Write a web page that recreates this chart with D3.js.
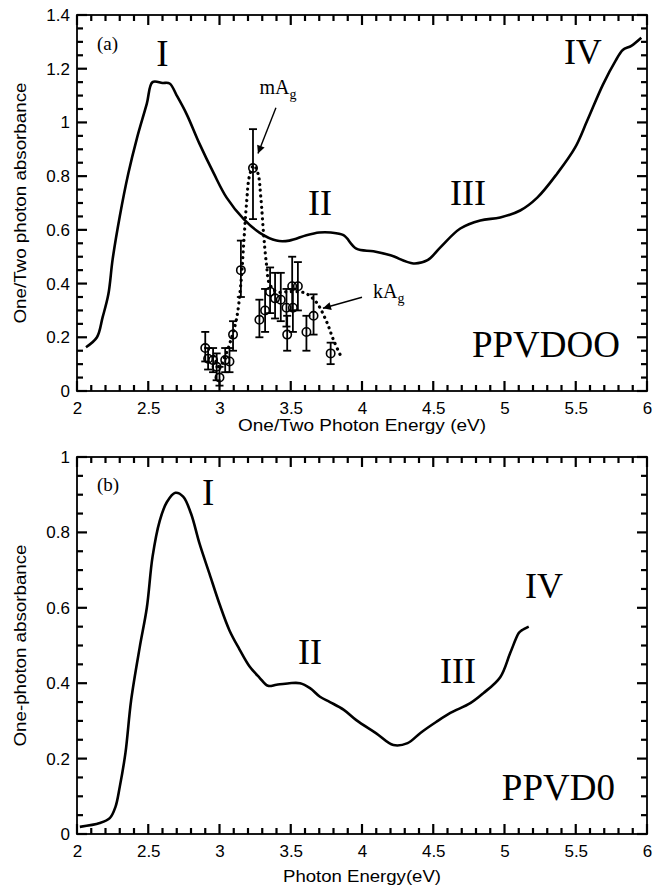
<!DOCTYPE html>
<html>
<head>
<meta charset="utf-8">
<script src="https://cdn.jsdelivr.net/npm/d3@7"></script>
<style>
  body { margin: 0; background: #fff; }
  svg { display: block; }
  .axis path { display: none; }
  .axis text { font-family: "Liberation Sans", Arial, Helvetica, sans-serif; font-size: 17px; fill: #000; }
  .title { font-family: "Liberation Sans", Arial, Helvetica, sans-serif; font-size: 16px; fill: #000; }
  .lbl { font-family: "Liberation Serif", "Times New Roman", Times, serif; fill: #000; }
</style>
</head>
<body>
<div id="chart"></div>
<script>
// (a) PPVDOO one-photon absorbance
const ppvdooE = [2.063, 2.14, 2.18, 2.22, 2.25, 2.30, 2.36, 2.42, 2.49, 2.53, 2.60, 2.65, 2.70, 2.77, 2.86, 2.96, 3.05, 3.17, 3.28, 3.40, 3.49, 3.61, 3.70, 3.78, 3.87, 3.96, 4.08, 4.20, 4.36, 4.46, 4.55, 4.69, 4.83, 4.97, 5.11, 5.23, 5.37, 5.495, 5.58, 5.69, 5.78, 5.83, 5.89, 5.96];
const ppvdooA = [0.163, 0.20, 0.275, 0.36, 0.49, 0.65, 0.81, 0.94, 1.07, 1.15, 1.147, 1.145, 1.10, 1.03, 0.92, 0.81, 0.72, 0.64, 0.59, 0.56, 0.56, 0.58, 0.59, 0.59, 0.58, 0.53, 0.52, 0.505, 0.475, 0.487, 0.535, 0.605, 0.635, 0.646, 0.672, 0.72, 0.81, 0.906, 1.006, 1.14, 1.23, 1.27, 1.285, 1.315];

// (a) two-photon points with error bars
const tpaE    = [2.90, 2.92, 2.955, 2.98, 3.00, 3.04, 3.07, 3.095, 3.15, 3.235, 3.28, 3.32, 3.355, 3.39, 3.43, 3.47, 3.475, 3.51, 3.515, 3.55, 3.61, 3.66, 3.78];
const tpaA    = [0.16, 0.12, 0.115, 0.09, 0.05, 0.115, 0.11, 0.21, 0.45, 0.83, 0.265, 0.30, 0.37, 0.345, 0.34, 0.31, 0.21, 0.39, 0.31, 0.39, 0.22, 0.28, 0.14];
const tpaLow  = [0.11, 0.08, 0.07, 0.04, 0.02, 0.07, 0.07, 0.15, 0.35, 0.64, 0.20, 0.22, 0.29, 0.27, 0.26, 0.24, 0.15, 0.30, 0.22, 0.30, 0.15, 0.21, 0.10];
const tpaHigh = [0.22, 0.16, 0.16, 0.14, 0.09, 0.16, 0.16, 0.26, 0.56, 0.975, 0.34, 0.38, 0.46, 0.44, 0.44, 0.38, 0.28, 0.50, 0.38, 0.48, 0.28, 0.36, 0.18];

// (a) dotted fit through the two-photon data
const fitE = [2.96, 3.00, 3.04, 3.08, 3.12, 3.15, 3.17, 3.19, 3.21, 3.24, 3.27, 3.29, 3.31, 3.33, 3.35, 3.40, 3.50, 3.60, 3.68, 3.75, 3.80, 3.86];
const fitA = [0.13, 0.09, 0.13, 0.19, 0.27, 0.40, 0.55, 0.70, 0.80, 0.84, 0.81, 0.72, 0.58, 0.47, 0.40, 0.37, 0.37, 0.365, 0.33, 0.26, 0.19, 0.12];

// (b) PPVD0 one-photon absorbance
const ppvd0E = [2.02, 2.16, 2.23, 2.27, 2.30, 2.34, 2.38, 2.44, 2.49, 2.53, 2.58, 2.63, 2.69, 2.745, 2.80, 2.86, 2.93, 3.00, 3.07, 3.14, 3.21, 3.28, 3.34, 3.40, 3.49, 3.565, 3.635, 3.705, 3.775, 3.87, 3.96, 4.10, 4.22, 4.32, 4.41, 4.52, 4.62, 4.76, 4.85, 4.97, 5.04, 5.10, 5.12, 5.17];
const ppvd0A = [0.019, 0.029, 0.042, 0.072, 0.125, 0.215, 0.355, 0.495, 0.60, 0.735, 0.83, 0.88, 0.905, 0.895, 0.85, 0.77, 0.69, 0.61, 0.54, 0.49, 0.445, 0.415, 0.393, 0.396, 0.40, 0.40, 0.387, 0.364, 0.35, 0.33, 0.302, 0.267, 0.236, 0.241, 0.268, 0.297, 0.321, 0.347, 0.373, 0.416, 0.48, 0.533, 0.54, 0.55];

const xMajor = [2, 2.5, 3, 3.5, 4, 4.5, 5, 5.5, 6];
const xTicks = d3.range(20, 61).map(d => d / 10);

const width = 662, height = 890;

const svg = d3.select('#chart').append('svg')
  .attr('width', width)
  .attr('height', height);

svg.append('defs').append('marker')
  .attr('id', 'arrow')
  .attr('viewBox', '0 0 10 10')
  .attr('refX', 10).attr('refY', 5)
  .attr('markerWidth', 11).attr('markerHeight', 8)
  .attr('markerUnits', 'userSpaceOnUse')
  .attr('orient', 'auto')
  .append('path')
  .attr('d', 'M0,0 L10,5 L0,10 Z')
  .attr('fill', '#000');

const fmt = d => String(+d.toFixed(2));
const isMult = (v, step) => Math.abs(v / step - Math.round(v / step)) < 1e-6;

function drawPanel(p) {
  const x = d3.scaleLinear().domain([2, 6]).range([77, 647]);
  const y = d3.scaleLinear().domain([0, p.yMax]).range([p.bottom, p.top]);
  const x0 = 77, x1 = 647;

  const yTicks = d3.range(0, Math.round(p.yMax * 20) + 1).map(d => d / 20);
  const yMajor = yTicks.filter(v => isMult(v, 0.2));

  const g = svg.append('g');

  // frame
  g.append('rect')
    .attr('x', x0).attr('y', p.top)
    .attr('width', x1 - x0).attr('height', p.bottom - p.top)
    .attr('fill', 'none').attr('stroke', '#000').attr('stroke-width', 1.8);

  // inward ticks on all four sides
  const tk = g.append('g').attr('stroke', '#000').attr('stroke-width', 2.2);
  const xLen = v => isMult(v, 0.5) ? 10 : 6;
  const yLen = v => isMult(v, 0.2) ? 10 : 6;
  tk.selectAll('.tb').data(xTicks).enter().append('line')
    .attr('x1', v => x(v)).attr('x2', v => x(v))
    .attr('y1', p.bottom).attr('y2', v => p.bottom - xLen(v));
  tk.selectAll('.tt').data(xTicks).enter().append('line')
    .attr('x1', v => x(v)).attr('x2', v => x(v))
    .attr('y1', p.top).attr('y2', v => p.top + xLen(v));
  tk.selectAll('.tl').data(yTicks).enter().append('line')
    .attr('y1', v => y(v)).attr('y2', v => y(v))
    .attr('x1', x0).attr('x2', v => x0 + yLen(v));
  tk.selectAll('.tr').data(yTicks).enter().append('line')
    .attr('y1', v => y(v)).attr('y2', v => y(v))
    .attr('x1', x1).attr('x2', v => x1 - yLen(v));

  // tick labels
  g.append('g').attr('class', 'axis')
    .attr('transform', `translate(0,${p.bottom})`)
    .call(d3.axisBottom(x).tickValues(xMajor).tickSize(0).tickPadding(11).tickFormat(fmt));
  g.append('g').attr('class', 'axis')
    .attr('transform', `translate(${x0},0)`)
    .call(d3.axisLeft(y).tickValues(yMajor).tickSize(0).tickPadding(7).tickFormat(fmt));

  const line = d3.line()
    .x(d => x(d[0])).y(d => y(d[1]))
    .curve(d3.curveCatmullRom);

  g.append('path')
    .datum(p.E.map((e, i) => [e, p.A[i]]))
    .attr('d', line)
    .attr('fill', 'none').attr('stroke', '#000')
    .attr('stroke-width', 2.6).attr('stroke-linejoin', 'round');

  // axis titles
  g.append('text').attr('class', 'title')
    .attr('x', (x0 + x1) / 2).attr('y', p.xTitleY)
    .attr('text-anchor', 'middle')
    .attr('textLength', p.xTitleLen).attr('lengthAdjust', 'spacingAndGlyphs')
    .text(p.xTitle);

  g.append('text').attr('class', 'title')
    .attr('transform', `translate(26,${(p.top + p.bottom) / 2}) rotate(-90)`)
    .attr('text-anchor', 'middle')
    .attr('textLength', p.yTitleLen).attr('lengthAdjust', 'spacingAndGlyphs')
    .text(p.yTitle);

  // in-plot labels
  p.labels.forEach(l => {
    const t = g.append('text').attr('class', 'lbl')
      .attr('x', x(l.e)).attr('y', y(l.a))
      .attr('font-size', l.size)
      .attr('text-anchor', l.anchor || 'middle')
      .text(l.text);
    if (l.sub) {
      t.append('tspan').attr('font-size', l.size * 0.7).attr('dy', 5).text(l.sub);
    }
  });

  return {g, x, y};
}

// panel (a)
const a = drawPanel({
  top: 15, bottom: 391, yMax: 1.4,
  E: ppvdooE, A: ppvdooA,
  xTitle: 'One/Two Photon Energy (eV)', xTitleY: 431, xTitleLen: 248,
  yTitle: 'One/Two photon absorbance', yTitleLen: 241,
  labels: [
    {text: '(a)', e: 2.14, a: 1.27, size: 19, anchor: 'start'},
    {text: 'I', e: 2.60, a: 1.21, size: 37},
    {text: 'II', e: 3.705, a: 0.654, size: 36},
    {text: 'III', e: 4.744, a: 0.691, size: 36},
    {text: 'IV', e: 5.55, a: 1.218, size: 36},
    {text: 'mA', sub: 'g', e: 3.28, a: 1.107, size: 20, anchor: 'start'},
    {text: 'kA', sub: 'g', e: 4.077, a: 0.345, size: 20, anchor: 'start'},
    {text: 'PPVDOO', e: 5.81, a: 0.126, size: 37, anchor: 'end'}
  ]
});

// dotted two-photon fit
a.g.append('path')
  .datum(fitE.map((e, i) => [e, fitA[i]]))
  .attr('d', d3.line().x(d => a.x(d[0])).y(d => a.y(d[1])).curve(d3.curveCatmullRom))
  .attr('fill', 'none').attr('stroke', '#000')
  .attr('stroke-width', 3.2).attr('stroke-linecap', 'round')
  .attr('stroke-dasharray', '0.1 5.6');

// error bars
const tpa = tpaE.map((e, i) => ({e, v: tpaA[i], lo: tpaLow[i], hi: tpaHigh[i]}));
const bars = a.g.append('g').attr('stroke', '#000').attr('stroke-width', 1.8);
bars.selectAll('.eb').data(tpa).enter().append('line')
  .attr('x1', d => a.x(d.e)).attr('x2', d => a.x(d.e))
  .attr('y1', d => a.y(d.lo)).attr('y2', d => a.y(d.hi));
bars.selectAll('.capHi').data(tpa).enter().append('line')
  .attr('x1', d => a.x(d.e) - 4).attr('x2', d => a.x(d.e) + 4)
  .attr('y1', d => a.y(d.hi)).attr('y2', d => a.y(d.hi));
bars.selectAll('.capLo').data(tpa).enter().append('line')
  .attr('x1', d => a.x(d.e) - 4).attr('x2', d => a.x(d.e) + 4)
  .attr('y1', d => a.y(d.lo)).attr('y2', d => a.y(d.lo));
a.g.append('g').selectAll('circle').data(tpa).enter().append('circle')
  .attr('cx', d => a.x(d.e)).attr('cy', d => a.y(d.v))
  .attr('r', 4.2)
  .attr('fill', 'none').attr('stroke', '#000').attr('stroke-width', 1.6);

// arrows
const arrowsA = [
  {e1: 3.396, a1: 1.055, e2: 3.27, a2: 0.884},
  {e1: 4.00, a1: 0.349, e2: 3.726, a2: 0.308}
];
a.g.selectAll('.arrow').data(arrowsA).enter().append('line')
  .attr('x1', d => a.x(d.e1)).attr('y1', d => a.y(d.a1))
  .attr('x2', d => a.x(d.e2)).attr('y2', d => a.y(d.a2))
  .attr('stroke', '#000').attr('stroke-width', 1.4)
  .attr('marker-end', 'url(#arrow)');

// panel (b)
drawPanel({
  top: 457, bottom: 834, yMax: 1,
  E: ppvd0E, A: ppvd0A,
  xTitle: 'Photon Energy(eV)', xTitleY: 882, xTitleLen: 158,
  yTitle: 'One-photon absorbance', yTitleLen: 202,
  labels: [
    {text: '(b)', e: 2.14, a: 0.91, size: 19, anchor: 'start'},
    {text: 'I', e: 2.92, a: 0.873, size: 37},
    {text: 'II', e: 3.635, a: 0.45, size: 36},
    {text: 'III', e: 4.674, a: 0.40, size: 36},
    {text: 'IV', e: 5.277, a: 0.626, size: 36},
    {text: 'PPVD0', e: 5.775, a: 0.09, size: 37, anchor: 'end'}
  ]
});
</script>
</body>
</html>
